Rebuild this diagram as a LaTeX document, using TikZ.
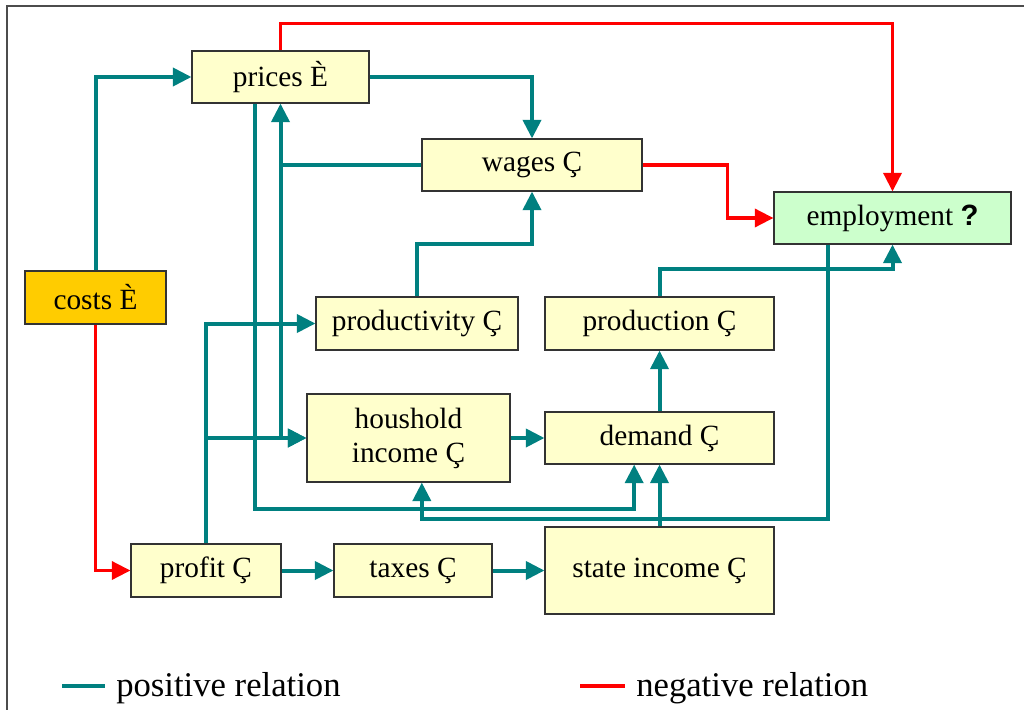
\documentclass[tikz,border=0pt]{standalone}
\usepackage{fontspec}
\setmainfont{Liberation Serif}
\setsansfont{Liberation Sans}
\usetikzlibrary{arrows.meta}

\definecolor{tealline}{HTML}{008080}
\definecolor{boxfill}{HTML}{FFFFCC}
\definecolor{costfill}{HTML}{FFCC00}
\definecolor{empfill}{HTML}{CCFFCC}

\begin{document}
\begin{tikzpicture}[x=0.75pt,y=-0.75pt,
  box/.style={draw=black!80, line width=0.8pt, fill=boxfill, inner sep=0pt,
    align=center, font=\fontsize{22}{25.5}\selectfont},
  posarrow/.style={draw=tealline, line width=3pt,
    -{Triangle[length=14pt,width=13.5pt]}},
  negarrow/.style={draw=red, line width=2.7pt,
    -{Triangle[length=14pt,width=13.5pt]}},
  legend/.style={anchor=west, inner sep=0pt, font=\fontsize{26}{30}\selectfont}]

\useasboundingbox (0,0) rectangle (1024,710);

% frame
\draw[black!70, line width=1.5pt] (7,710) -- (7,6) -- (1024,6);

% boxes
\node[box, minimum width=132.75pt, minimum height=39pt] (prices) at (280.5,77) {prices È};
\node[box, minimum width=165pt, minimum height=39pt] (wages) at (532,165) {wages Ç};
\node[box, fill=empfill, minimum width=177.75pt, minimum height=39pt] (employment) at (892.5,218) {employment \textsf{\bfseries ?}};
\node[box, fill=costfill, minimum width=105.75pt, minimum height=39.75pt] (costs) at (95.5,297.5) {costs È};
\node[box, minimum width=151.5pt, minimum height=39.75pt] (productivity) at (417,323.5) {productivity Ç};
\node[box, minimum width=171.75pt, minimum height=39.75pt] (production) at (659.5,323.5) {production Ç};
\node[box, minimum width=152.25pt, minimum height=66pt] (household) at (408.5,438) {houshold\\income Ç};
\node[box, minimum width=171.75pt, minimum height=39pt] (demand) at (659.5,438) {demand Ç};
\node[box, minimum width=112.5pt, minimum height=39.75pt] (profit) at (206,570.5) {profit Ç};
\node[box, minimum width=118.5pt, minimum height=39.75pt] (taxes) at (413,570.5) {taxes Ç};
\node[box, minimum width=171.75pt, minimum height=65.25pt] (state) at (659.5,570.5) {state income Ç};

% negative relations
\draw[negarrow] (costs.south) |- (profit.west);
\draw[negarrow] (prices.north) -- ++(0,-27) -| (employment.north);
\draw[negarrow] (wages.east) -- ++(85,0) |- (employment.west);

% positive relations
\draw[posarrow] (costs.north) |- (prices.west);
\draw[posarrow] (prices.east) -| (wages.north);
\draw[posarrow] (wages.west) -| (prices.south);
\draw[posarrow] (prices.south |- wages.west) |- (household.west);
\draw[posarrow] (profit.north) |- (productivity.west);
\draw[posarrow] (profit.north) |- (household.west);
\draw[posarrow] ([xshift=-19pt]prices.south) -- ++(0,405) -| ([xshift=-19pt]demand.south);
\draw[posarrow] ([xshift=-48.4pt]employment.south) -- ++(0,274) -| ([xshift=10pt]household.south);
\draw[posarrow] (productivity.north) -- ++(0,-52) -| (wages.south);
\draw[posarrow] (production.north) -- ++(0,-27) -| (employment.south);
\draw[posarrow] (demand.north) -- (production.south);
\draw[posarrow] (state.north) -- (demand.south);
\draw[posarrow] (household.east) -- (demand.west);
\draw[posarrow] (profit.east) -- (taxes.west);
\draw[posarrow] (taxes.east) -- (state.west);

% legend
\node[legend] (poslabel) at (116,688) {positive relation};
\node[legend] (neglabel) at (636,688) {negative relation};
\draw[tealline, line width=3pt] (62,686) -- (105,686);
\draw[red, line width=3pt] (580,686) -- (625,686);

\end{tikzpicture}
\end{document}
